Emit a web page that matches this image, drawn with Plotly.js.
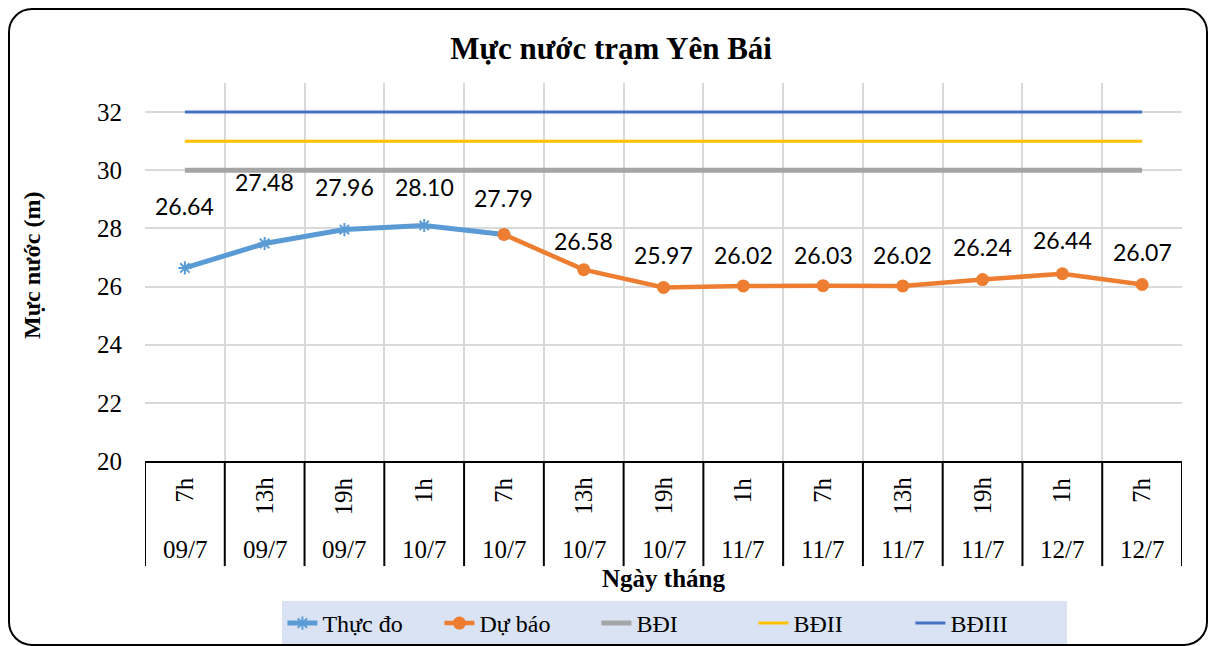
<!DOCTYPE html>
<html>
<head>
<meta charset="utf-8">
<script src="https://cdn.plot.ly/plotly-3.0.1.min.js"></script>
<style>
  html, body { margin: 0; padding: 0; background: #fff; }
  #wrap { position: relative; width: 1210px; height: 646px; }
  #chart { position: absolute; left: 0; top: 0; width: 1210px; height: 646px; }
  #frame { position: absolute; left: 8px; top: 8px; width: 1196px; height: 634px;
           border: 2px solid #000; border-radius: 24px; pointer-events: none; }
</style>
</head>
<body>
<div id="wrap">
  <div id="chart"></div>
  <div id="frame"></div>
</div>
<script>
// ---- data ----
const hours = ["7h", "13h", "19h", "1h", "7h", "13h", "19h", "1h", "7h", "13h", "19h", "1h", "7h"];
const dates = ["09/7", "09/7", "09/7", "10/7", "10/7", "10/7", "10/7", "11/7", "11/7", "11/7", "11/7", "12/7", "12/7"];
const observedIdx = [0, 1, 2, 3, 4];
const observed = [26.64, 27.48, 27.96, 28.10, 27.79];
const forecastIdx = [4, 5, 6, 7, 8, 9, 10, 11, 12];
const forecast = [27.79, 26.58, 25.97, 26.02, 26.03, 26.02, 26.24, 26.44, 26.07];
const BDI = 30, BDII = 31, BDIII = 32;
// label lift above each point (px), as placed in the original chart
const labelLift = [62, 62, 43, 38, 36, 29, 32, 31, 31, 31, 33, 34, 33];

// ---- build ----
const cats = hours.map((h, i) => h + " " + dates[i]);
const xObs = observedIdx.map(i => cats[i]);
const xFc = forecastIdx.map(i => cats[i]);
const xEnds = [cats[0], cats[cats.length - 1]];

const serif = "Liberation Serif, Times New Roman, serif";

const traces = [
  { name: "Thực đo", x: xObs, y: observed, type: "scatter", mode: "lines+markers",
    line: { color: "#5B9BD5", width: 5 },
    marker: { symbol: "asterisk-open", size: 11, color: "#5B9BD5", line: { color: "#5B9BD5", width: 2 } } },
  { name: "Dự báo", x: xFc, y: forecast, type: "scatter", mode: "lines+markers",
    line: { color: "#ED7D31", width: 4.5 },
    marker: { symbol: "circle", size: 13, color: "#ED7D31" } },
  { name: "BĐI", x: xEnds, y: [BDI, BDI], type: "scatter", mode: "lines",
    line: { color: "#A5A5A5", width: 5 } },
  { name: "BĐII", x: xEnds, y: [BDII, BDII], type: "scatter", mode: "lines",
    line: { color: "#FFC000", width: 3 } },
  { name: "BĐIII", x: xEnds, y: [BDIII, BDIII], type: "scatter", mode: "lines",
    line: { color: "#4472C4", width: 3 } }
];

// value labels
const labelVals = [];
const labelX = [];
observedIdx.slice(0, 4).forEach((idx, k) => { labelVals.push(observed[k]); labelX.push(idx); });
forecastIdx.forEach((idx, k) => { labelVals.push(forecast[k]); labelX.push(idx); });

const annotations = [];
labelVals.forEach((v, k) => {
  const idx = labelX[k];
  annotations.push({ x: cats[idx], y: v, xref: "x", yref: "y", showarrow: false,
    text: v.toFixed(2), yshift: labelLift[idx], yanchor: "middle",
    font: { family: "Lato, Noto Sans, sans-serif", size: 23, color: "#000" } });
});
// category labels (two levels)
cats.forEach((c, i) => {
  annotations.push({ x: c, y: -0.037, xref: "x", yref: "paper", showarrow: false,
    text: hours[i], textangle: -90, yanchor: "top", xanchor: "center",
    font: { family: serif, size: 25, color: "#000" } });
  annotations.push({ x: c, y: -0.235, xref: "x", yref: "paper", showarrow: false,
    text: dates[i], yanchor: "middle", xanchor: "center",
    font: { family: serif, size: 25, color: "#000" } });
});
// axis titles
annotations.push({ x: 0.5, y: -0.31, xref: "paper", yref: "paper", showarrow: false,
  text: "<b>Ngày tháng</b>", yanchor: "middle", font: { family: serif, size: 25, color: "#000" } });
annotations.push({ x: -0.109, y: 0.5185, xref: "paper", yref: "paper", showarrow: false,
  text: "<b>Mực nước (m)</b>", textangle: -90, xanchor: "center", yanchor: "middle",
  font: { family: serif, size: 24, color: "#000" } });

// boxes below axis
const shapes = [];
for (let i = 0; i <= cats.length; i++) {
  shapes.push({ type: "line", xref: "x", yref: "paper", x0: i - 0.5, x1: i - 0.5, y0: 0, y1: -0.278,
    line: { color: "#000", width: 2 } });
}

const layout = {
  width: 1210, height: 646,
  margin: { l: 145, r: 28, t: 83, b: 185 },
  paper_bgcolor: "#fff", plot_bgcolor: "#fff",
  title: { text: "<b>Mực nước trạm Yên Bái</b>", xref: "container", x: 0.505, y: 0.926, yanchor: "middle",
    font: { family: serif, size: 31, color: "#000" } },
  xaxis: { type: "category", categoryorder: "array", categoryarray: cats,
    range: [-0.5, cats.length - 0.5], tickson: "boundaries", showgrid: true, gridcolor: "#d9d9d9", gridwidth: 2,
    showticklabels: false, ticks: "", showline: true, linecolor: "#000", linewidth: 2, zeroline: false, fixedrange: true },
  yaxis: { range: [20, 33], tickvals: [20, 22, 24, 26, 28, 30, 32], showgrid: true, gridcolor: "#d9d9d9", gridwidth: 2,
    zeroline: false, showline: false, ticks: "", ticklabelstandoff: 22,
    tickfont: { family: serif, size: 25, color: "#000" }, fixedrange: true },
  showlegend: true,
  legend: { orientation: "h", xref: "paper", x: 0.511, xanchor: "center", yref: "container", y: 0.0697, yanchor: "top",
    entrywidth: 112, entrywidthmode: "pixels",
    bgcolor: "#dae3f3", font: { family: serif, size: 24, color: "#000" }, traceorder: "normal" },
  annotations: annotations,
  shapes: shapes
};

Plotly.newPlot("chart", traces, layout, { displayModeBar: false, staticPlot: true });
</script>
</body>
</html>
